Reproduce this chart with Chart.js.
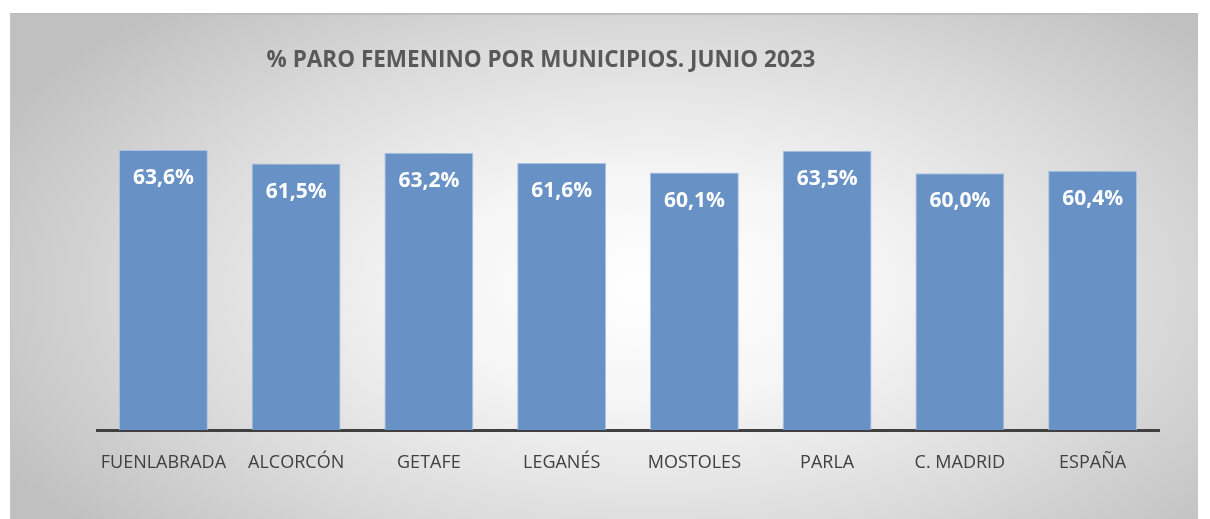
<!DOCTYPE html>
<html>
<head>
<meta charset="utf-8">
<script src="https://cdn.jsdelivr.net/npm/chart.js@4"></script>
<style>
    body { margin: 0; background: #fff; }
    #box {
        position: absolute; left: 10px; top: 13px; width: 1187px; height: 506px;
        border-top: 2px solid #bdbdbd; border-left: 1px solid #c4c4c4;
        background: radial-gradient(ellipse 62% 75% at 54% 54%, #ffffff 0%, #f5f5f5 30%, #dcdcdc 65%, #c0c0c0 100%);
    }
    #chart { position: absolute; left: 0; top: -2px; }
</style>
</head>
<body>
<div id="box"><canvas id="chart" width="1187" height="506"></canvas></div>
<script>
const categories = ['FUENLABRADA', 'ALCORCÓN', 'GETAFE', 'LEGANÉS', 'MOSTOLES', 'PARLA', 'C. MADRID', 'ESPAÑA'];
const values = [63.6, 61.5, 63.2, 61.6, 60.1, 63.5, 60.0, 60.4];
const chartTitle = '% PARO FEMENINO POR MUNICIPIOS. JUNIO 2023';

const barLabels = {
    id: 'barLabels',
    afterDatasetsDraw(chart) {
        const ctx = chart.ctx;
        ctx.save();
        ctx.fillStyle = '#ffffff';
        ctx.font = 'bold 21px "Open Sans"';
        ctx.textAlign = 'center';
        ctx.textBaseline = 'middle';
        chart.getDatasetMeta(0).data.forEach((bar, i) => {
            ctx.fillText(values[i].toFixed(1).replace('.', ',') + '%', bar.x, bar.y + 28);
        });
        ctx.restore();
    }
};

const titlePlugin = {
    id: 'titlePlugin',
    afterDraw(chart) {
        const ctx = chart.ctx;
        ctx.save();
        ctx.fillStyle = '#595959';
        ctx.font = 'bold 22.5px "Open Sans"';
        ctx.textAlign = 'center';
        ctx.textBaseline = 'middle';
        ctx.fillText(chartTitle, 530, 48);
        ctx.restore();
    }
};

new Chart(document.getElementById('chart'), {
    type: 'bar',
    data: {
        labels: categories,
        datasets: [{
            data: values,
            backgroundColor: '#6892c6',
            borderColor: '#a8c2e2',
            borderWidth: 1,
            barPercentage: 0.67,
            categoryPercentage: 1
        }]
    },
    options: {
        responsive: false,
        animation: false,
        layout: { padding: { left: 86, right: 39, top: 96, bottom: 29 } },
        plugins: { legend: { display: false }, tooltip: { enabled: false } },
        scales: {
            y: { display: false, min: 20, max: 70 },
            x: {
                grid: { display: false },
                border: { display: true, color: '#404040', width: 3 },
                ticks: { color: '#404040', font: { family: 'Open Sans', size: 18 }, padding: 14, maxRotation: 0 },
                afterFit(scale) { scale.height = 60; }
            }
        }
    },
    plugins: [barLabels, titlePlugin]
});
</script>
</body>
</html>
